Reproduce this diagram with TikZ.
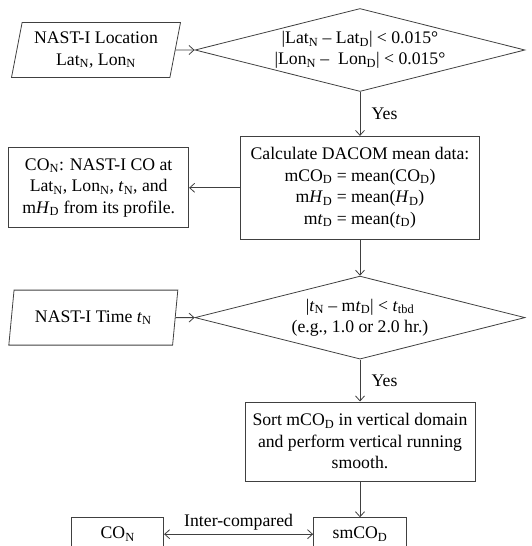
\documentclass[tikz,border=0pt]{standalone}
\usepackage{fontspec}
\setmainfont{Liberation Serif}
\usetikzlibrary{arrows.meta,positioning,shapes.geometric}

\begin{document}
\begin{tikzpicture}[>={Straight Barb[length=5pt,width=9pt]},
  font=\fontsize{17.7pt}{21.5pt}\selectfont,
  flowline/.style={draw=black!75, line width=0.8pt},
  procbox/.style={draw=black!75, line width=0.8pt, rectangle, align=center, inner sep=2pt},
  decision/.style={draw=black!75, line width=0.8pt, diamond, aspect=4, inner sep=0pt, align=center, minimum width=330pt, minimum height=83pt},
  datain/.style={draw=black!75, line width=0.8pt, trapezium, trapezium left angle=76, trapezium right angle=104, trapezium stretches body=true, align=center, minimum width=169pt, minimum height=55pt}]
  \useasboundingbox (0pt,0pt) rectangle (531pt,-546pt);

  % Location check
  \node (cond1) [decision] at (360pt,-50pt) {|Lat\textsubscript{N} – Lat\textsubscript{D}| < 0.015°\\|Lon\textsubscript{N} –\ \ Lon\textsubscript{D}| < 0.015°};
  \node (loc) [datain, left=19pt of cond1] {NAST-I Location\\Lat\textsubscript{N}, Lon\textsubscript{N}};

  % DACOM mean data
  \node (calc) [procbox, below=44pt of cond1, minimum width=239pt, minimum height=103pt] {Calculate DACOM mean data:\\mCO\textsubscript{D} = mean(CO\textsubscript{D})\\m\textit{H}\textsubscript{D} = mean(\textit{H}\textsubscript{D})\\m\textit{t}\textsubscript{D} = mean(\textit{t}\textsubscript{D})};
  \node (con) [procbox, left=51pt of calc, minimum width=180pt, minimum height=80pt] {CO\textsubscript{N}: NAST-I CO at\\Lat\textsubscript{N}, Lon\textsubscript{N}, \textit{t}\textsubscript{N}, and\\m\textit{H}\textsubscript{D} from its profile.};

  % Time check
  \node (cond2) [decision, below=36pt of calc] {|\textit{t}\textsubscript{N} – m\textit{t}\textsubscript{D}| < \textit{t}\textsubscript{tbd}\\(e.g., 1.0 or 2.0 hr.)};
  \node (tim) [datain, left=19pt of cond2] {NAST-I Time \textit{t}\textsubscript{N}};

  % Smoothing and comparison
  \node (sort) [procbox, below=42pt of cond2, minimum width=230pt, minimum height=79pt] {Sort mCO\textsubscript{D} in vertical domain\\and perform vertical running\\smooth.};
  \node (smco) [procbox, below=36pt of sort, minimum width=93pt, minimum height=33pt] {smCO\textsubscript{D}};
  \node (conb) [procbox, left=149pt of smco, minimum width=92pt, minimum height=33pt] {CO\textsubscript{N}};

  % Connections
  \draw[->, flowline] (loc) -- (cond1);
  \draw[->, flowline] (cond1) -- node[right=8pt]{Yes} (calc);
  \draw[->, flowline] (calc) -- (con);
  \draw[->, flowline] (calc) -- (cond2);
  \draw[->, flowline] (tim) -- (cond2);
  \draw[->, flowline] (cond2) -- node[right=8pt]{Yes} (sort);
  \draw[->, flowline] (sort) -- (smco);
  \draw[<->, flowline] (conb) -- node[above]{Inter-compared} (smco);
\end{tikzpicture}
\end{document}
